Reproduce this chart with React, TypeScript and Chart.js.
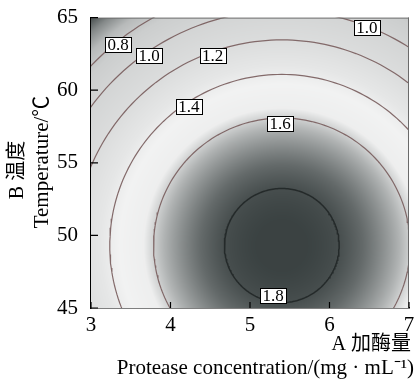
import React, { useEffect, useRef } from "react";
import { Chart, registerables } from "chart.js";

Chart.register(...registerables);

// ---- data ----
const xTicks = [3, 4, 5, 6, 7];
const yTicks = [45, 50, 55, 60, 65];
const contourLevels = [0.8, 1.0, 1.2, 1.4, 1.6, 1.8];
// fitted quadratic response surface (A = protease, B = temperature)
const optimumA = 5.4;
const optimumB = 49.3;
const peakResponse = 1.85;
const curvatureA = 0.0961;
const curvatureB = 0.00324;
// contour labels
const labelTexts = ["0.8", "1.0", "1.2", "1.4", "1.6", "1.8", "1.0"];
const labelA = [3.34, 3.73, 4.53, 4.23, 5.38, 5.29, 6.47];
const labelB = [63.15, 62.4, 62.4, 58.9, 57.7, 45.85, 64.3];

// ---- styles ----
const shadeStops = [0.45, 0.6, 0.72, 0.85, 1.0, 1.2, 1.35, 1.45, 1.56, 1.6, 1.64, 1.7, 1.75, 1.8, 1.84];
const shadeGray = [45, 135, 185, 205, 212, 220, 230, 242, 238, 208, 178, 138, 104, 76, 64];
const SERIF = "'Liberation Serif', 'Times New Roman', 'Noto Sans CJK SC', serif";

function response(a: number, b: number) {
  return peakResponse - curvatureA * (a - optimumA) ** 2 - curvatureB * (b - optimumB) ** 2;
}

function shade(f: number) {
  if (f <= shadeStops[0]) return shadeGray[0];
  for (let i = 1; i < shadeStops.length; i++) {
    if (f <= shadeStops[i]) {
      const t = (f - shadeStops[i - 1]) / (shadeStops[i] - shadeStops[i - 1]);
      return shadeGray[i - 1] + t * (shadeGray[i] - shadeGray[i - 1]);
    }
  }
  return shadeGray[shadeGray.length - 1];
}

function contourPoints(level: number) {
  const r2 = peakResponse - level;
  const ra = Math.sqrt(r2 / curvatureA);
  const rb = Math.sqrt(r2 / curvatureB);
  const pts: { x: number; y: number }[] = [];
  const n = 240;
  for (let i = 0; i <= n; i++) {
    const t = (i / n) * Math.PI * 2;
    pts.push({ x: optimumA + ra * Math.cos(t), y: optimumB + rb * Math.sin(t) });
  }
  return pts;
}

const heatmapPlugin = {
  id: "heatmap",
  beforeDatasetsDraw(chart: any) {
    const { ctx, chartArea: ca, scales } = chart;
    const xs = scales.x, ys = scales.y;
    const left = Math.round(ca.left), top = Math.round(ca.top);
    const w = Math.round(ca.right) - left, h = Math.round(ca.bottom) - top;
    const img = ctx.createImageData(w, h);
    for (let j = 0; j < h; j++) {
      const b = ys.getValueForPixel(top + j + 0.5);
      for (let i = 0; i < w; i++) {
        const a = xs.getValueForPixel(left + i + 0.5);
        const g = shade(response(a, b));
        const k = 1 - g / 255;
        const idx = (j * w + i) * 4;
        img.data[idx] = g - 7 * k;
        img.data[idx + 1] = g + 3 * k;
        img.data[idx + 2] = g + 3 * k;
        img.data[idx + 3] = 255;
      }
    }
    ctx.putImageData(img, left, top);
  },
  afterDatasetsDraw(chart: any) {
    const { ctx, chartArea: ca, scales } = chart;
    const xs = scales.x, ys = scales.y;
    ctx.save();
    // contour labels
    ctx.font = `17px ${SERIF}`;
    ctx.textAlign = "center";
    ctx.textBaseline = "middle";
    labelTexts.forEach((t, i) => {
      const px = xs.getPixelForValue(labelA[i]);
      const py = ys.getPixelForValue(labelB[i]);
      const w = Math.round(ctx.measureText(t).width + 5);
      const h = 15;
      const bx = Math.round(px - w / 2) + 0.5, by = Math.round(py - h / 2) + 0.5;
      ctx.fillStyle = "#fff";
      ctx.fillRect(bx, by, w, h);
      ctx.strokeStyle = "#000";
      ctx.lineWidth = 1;
      ctx.strokeRect(bx, by, w, h);
      ctx.fillStyle = "#000";
      ctx.fillText(t, px, py + 1);
    });
    // frame: top & right light, ticks inward
    ctx.strokeStyle = "#6a6a6a";
    ctx.lineWidth = 1;
    ctx.beginPath();
    ctx.moveTo(ca.left, ca.top + 0.5);
    ctx.lineTo(ca.right, ca.top + 0.5);
    ctx.moveTo(ca.right - 0.5, ca.top);
    ctx.lineTo(ca.right - 0.5, ca.bottom);
    ctx.stroke();
    ctx.strokeStyle = "#000";
    ctx.lineWidth = 1.2;
    ctx.beginPath();
    xTicks.forEach((v) => {
      const px = xs.getPixelForValue(v);
      ctx.moveTo(px, ca.bottom);
      ctx.lineTo(px, ca.bottom - 6);
    });
    yTicks.forEach((v) => {
      const py = ys.getPixelForValue(v);
      ctx.moveTo(ca.left, py);
      ctx.lineTo(ca.left + 7, py);
    });
    ctx.stroke();
    ctx.restore();
  },
  afterDraw(chart: any) {
    const { ctx } = chart;
    ctx.save();
    ctx.fillStyle = "#000";
    ctx.textBaseline = "middle";
    ctx.font = `20px ${SERIF}`;
    ctx.textAlign = "right";
    ctx.fillText("A 加酶量", 411, 345);
    ctx.font = `21px ${SERIF}`;
    ctx.fillText("Protease concentration/(mg · mL⁻¹)", 414, 368);
    ctx.textAlign = "center";
    ctx.font = `20px ${SERIF}`;
    ctx.translate(18, 170);
    ctx.rotate(-Math.PI / 2);
    ctx.fillText("B 温度", 0, 0);
    ctx.rotate(Math.PI / 2);
    ctx.translate(24, -8);
    ctx.rotate(-Math.PI / 2);
    ctx.font = `21px ${SERIF}`;
    ctx.fillText("Temperature/℃", 0, 0);
    ctx.restore();
  },
};

export default function App() {
  const ref = useRef<HTMLCanvasElement | null>(null);
  useEffect(() => {
    document.body.style.margin = "0";
    const canvas = ref.current!;
    const datasets = contourLevels.map((lv) => ({
      type: "line" as const,
      data: contourPoints(lv),
      borderColor: lv >= 1.8 ? "rgba(35,40,40,0.95)" : "rgba(120,92,92,0.9)",
      borderWidth: lv >= 1.8 ? 1.5 : 1.2,
      pointRadius: 0,
      showLine: true,
      fill: false,
      tension: 0,
      clip: 0,
    }));
    const chart = new Chart(canvas, {
      type: "scatter",
      data: { datasets },
      options: {
        responsive: false,
        animation: false,
        devicePixelRatio: 1,
        layout: { padding: { left: 0, top: 16, right: 8, bottom: 0 } },
        plugins: { legend: { display: false }, tooltip: { enabled: false } },
        scales: {
          x: {
            type: "linear",
            min: 3,
            max: 7,
            afterBuildTicks: (s: any) => {
              s.ticks = xTicks.map((v) => ({ value: v }));
            },
            afterFit: (s: any) => {
              s.height = 71;
            },
            grid: { display: false },
            border: { display: true, color: "#000", width: 1.5 },
            ticks: { color: "#000", font: { family: SERIF, size: 21 }, padding: -3 },
          },
          y: {
            type: "linear",
            min: 45,
            max: 65,
            afterBuildTicks: (s: any) => {
              s.ticks = yTicks.map((v) => ({ value: v }));
            },
            afterFit: (s: any) => {
              s.width = 91;
            },
            grid: { display: false },
            border: { display: true, color: "#000", width: 1.5 },
            ticks: { color: "#000", font: { family: SERIF, size: 21 }, padding: 5 },
          },
        },
      },
      plugins: [heatmapPlugin],
    });
    return () => chart.destroy();
  }, []);
  return (
    <div style={{ width: 417, height: 379 }}>
      <canvas ref={ref} width={417} height={379} style={{ display: "block" }} />
    </div>
  );
}
